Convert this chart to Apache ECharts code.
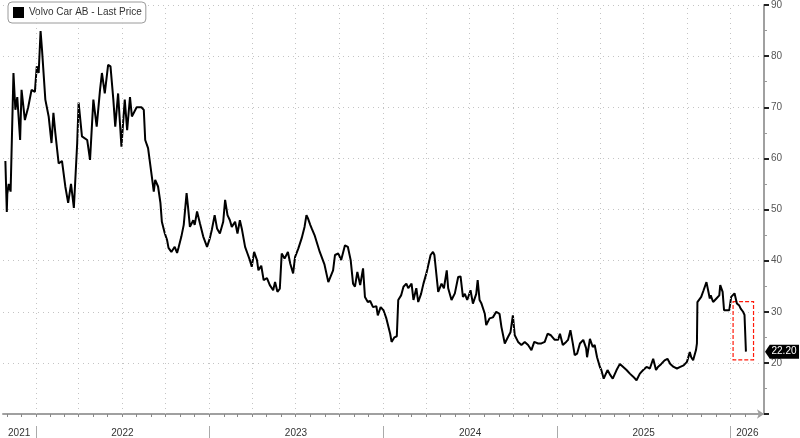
<!DOCTYPE html>
<html>
<head>
<meta charset="utf-8">
<script src="https://cdn.jsdelivr.net/npm/echarts@6/dist/echarts.min.js"></script>
<style>
html,body{margin:0;padding:0;background:#fff;}
#chart{width:800px;height:438px;}
</style>
</head>
<body>
<div id="chart"></div>
<script>
// ---- DATA ----
const seriesName = 'Volvo Car AB - Last Price';
const dates = [
'2021-10-29','2021-11-01','2021-11-02','2021-11-05','2021-11-09','2021-11-15','2021-11-19','2021-11-23','2021-11-29','2021-12-02',
'2021-12-09','2021-12-16','2021-12-23','2021-12-30','2022-01-03','2022-01-07','2022-01-11','2022-01-14','2022-01-21','2022-01-28',
'2022-02-03','2022-02-07','2022-02-11','2022-02-18','2022-02-25','2022-03-04','2022-03-10','2022-03-16','2022-03-22','2022-03-29',
'2022-04-01','2022-04-08','2022-04-19','2022-04-25','2022-05-02','2022-05-09','2022-05-16','2022-05-20','2022-05-26','2022-06-02',
'2022-06-07','2022-06-13','2022-06-17','2022-06-23','2022-06-30','2022-07-07','2022-07-12','2022-07-18','2022-07-22','2022-08-01',
'2022-08-11','2022-08-16','2022-08-19','2022-08-25','2022-08-29','2022-09-02','2022-09-06','2022-09-09','2022-09-15','2022-09-20',
'2022-09-23','2022-09-29','2022-10-04','2022-10-07','2022-10-13','2022-10-20','2022-10-25','2022-10-28','2022-11-03','2022-11-08',
'2022-11-14','2022-11-17','2022-11-21','2022-11-28','2022-12-01','2022-12-06','2022-12-12','2022-12-19','2022-12-27','2023-01-02',
'2023-01-06','2023-01-12','2023-01-17','2023-01-23','2023-01-30','2023-02-03','2023-02-08','2023-02-13','2023-02-17','2023-02-24',
'2023-03-01','2023-03-06','2023-03-10','2023-03-17','2023-03-22','2023-03-27','2023-03-31','2023-04-05','2023-04-11','2023-04-14',
'2023-04-20','2023-04-25','2023-05-02','2023-05-08','2023-05-15','2023-05-19','2023-05-24','2023-05-29','2023-06-02','2023-06-08',
'2023-06-15','2023-06-20','2023-06-26','2023-06-30','2023-07-07','2023-07-14','2023-07-20','2023-07-24','2023-07-27','2023-08-01',
'2023-08-04','2023-08-10','2023-08-14','2023-08-21','2023-08-31','2023-09-08','2023-09-18','2023-09-22','2023-09-29','2023-10-05',
'2023-10-09','2023-10-13','2023-10-19','2023-10-25','2023-10-30','2023-11-03','2023-11-08','2023-11-14','2023-11-20','2023-11-24',
'2023-11-30','2023-12-05','2023-12-11','2023-12-18','2023-12-21','2023-12-27','2024-01-02','2024-01-08','2024-01-11','2024-01-16',
'2024-01-19','2024-01-25','2024-01-30','2024-02-02','2024-02-08','2024-02-13','2024-02-19','2024-02-23','2024-03-01','2024-03-05',
'2024-03-11','2024-03-15','2024-03-21','2024-03-26','2024-04-02','2024-04-05','2024-04-10','2024-04-15','2024-04-18','2024-04-22',
'2024-04-26','2024-05-03','2024-05-08','2024-05-14','2024-05-17','2024-05-24','2024-05-31','2024-06-07','2024-06-12','2024-06-17',
'2024-06-21','2024-06-26','2024-07-03','2024-07-08','2024-07-15','2024-07-18','2024-07-22','2024-07-26','2024-08-02','2024-08-05',
'2024-08-12','2024-08-19','2024-08-26','2024-08-30','2024-09-02','2024-09-06','2024-09-13','2024-09-20','2024-09-25','2024-09-30',
'2024-10-04','2024-10-11','2024-10-18','2024-10-25','2024-11-01','2024-11-08','2024-11-14','2024-11-22','2024-11-29','2024-12-06',
'2024-12-12','2024-12-19','2024-12-27','2025-01-03','2025-01-07','2025-01-13','2025-01-20','2025-01-24','2025-01-29','2025-02-03',
'2025-02-07','2025-02-12','2025-02-18','2025-02-25','2025-03-03','2025-03-05','2025-03-11','2025-03-17','2025-03-21','2025-03-26',
'2025-04-01','2025-04-04','2025-04-09','2025-04-17','2025-04-23','2025-04-28','2025-05-06','2025-05-13','2025-05-20','2025-05-27',
'2025-06-03','2025-06-10','2025-06-17','2025-06-24','2025-07-01','2025-07-08','2025-07-15','2025-07-22','2025-07-28','2025-08-01',
'2025-08-08','2025-08-15','2025-08-21','2025-08-27','2025-09-03','2025-09-10','2025-09-17','2025-09-24','2025-10-01','2025-10-07',
'2025-10-10','2025-10-14','2025-10-20','2025-10-22','2025-10-23','2025-10-31','2025-11-05','2025-11-11','2025-11-13','2025-11-18',
'2025-11-20','2025-11-25','2025-12-02','2025-12-08','2025-12-10','2025-12-15','2025-12-18','2025-12-23','2025-12-29','2026-01-02',
'2026-01-06','2026-01-09','2026-01-14','2026-01-19','2026-01-22','2026-01-27','2026-01-30','2026-02-02'
];
const prices = [
59.5,49.5,53,55,53.5,76.7,69.5,72,63.6,73.4,
67.5,70,73.4,73,78,76.7,84.9,81.3,71.5,68.2,
63,68.9,65,59,59.5,54.5,51.3,55,50.3,63,
70.9,64.3,63.6,59.7,71.5,66.2,73.4,76.7,72.7,78.3,
78,71.5,66.2,72.7,62.3,71.5,65.5,72,68.2,70,
70,69.5,63.6,62,61.7,56.4,53.5,55.8,54.5,51.3,
47.6,45.4,44,42.5,41.7,42.7,41.5,42.5,44.7,47,
53.2,50.5,46.6,47.9,47,49.6,47.3,44.7,42.7,44.4,
46,48.9,46.3,45.3,47.6,51.9,48.9,47.9,46.6,47.6,
45.3,47.9,46.3,42.7,41.4,40.1,38.8,41.7,40.1,38.1,
39,36.2,36.6,35.2,34.2,35.8,33.9,34.5,41.4,40.4,
41.7,39.4,37.5,40.7,42.4,44.4,46.6,48.9,48.3,47,
46.3,45,44.7,41.7,39.2,35.8,38.1,41.1,41.4,40.1,
39.8,43,42.7,40.1,35.5,34.9,37.8,35.2,38.5,32.9,
31.9,32.1,30.9,31.1,29.3,30.9,30.3,28.7,28.4,25.7,
24.1,25,25.2,32.3,33.2,34.9,35.5,34.6,35.5,32.3,
34.6,31.9,33.5,35.5,37.8,37.5,41.1,41.7,41.1,41.4,
33.9,35.5,34.6,38.1,34.6,32.3,33.6,36.8,36.9,32.9,
33.5,32.3,34.2,31.6,33.5,36.2,32.3,31.6,29.6,27.4,
28.7,28.9,30,30.2,29.6,27,23.8,25.1,26,29.3,
25.4,24.1,23.5,24.1,23.5,22.5,24.1,23.8,23.8,24.1,
25.7,25.4,24.5,24.5,25.7,23.5,24.1,24.5,26.4,23.8,
21.5,21.8,23.8,24.5,22.9,21.1,24.7,23.1,23.5,21.1,
19.2,18.6,16.9,18.6,17.6,16.9,18.6,19.8,19.2,18.6,
17.9,17.3,16.6,17.9,18.6,19.2,18.9,20.8,18.6,19.2,
19.8,20.5,20.8,19.8,19.2,18.9,19.2,19.5,20.2,22.1,
21.1,20.5,22.5,23.8,31.9,32.9,34.2,35.8,35.5,32.6,
33.2,31.9,32.6,33.2,35.2,33.9,30.3,30.3,30.3,32.9,
33.2,33.6,31.6,31.2,30.6,30,29.4,22.2
];
const yearLabelDates = ['2021-11-27','2022-07-02','2023-07-02','2024-07-02','2025-07-02','2026-02-05'];
const yearStarts = ['2022-01-01','2023-01-01','2024-01-01','2025-01-01','2026-01-01'];
const quarterStarts = [
'2022-01-01','2022-04-01','2022-07-01','2022-10-01','2023-01-01','2023-04-01','2023-07-01','2023-10-01',
'2024-01-01','2024-04-01','2024-07-01','2024-10-01','2025-01-01','2025-04-01','2025-07-01','2025-10-01','2026-01-01'
];
const axisStart = '2021-10-24';
const axisEnd = '2026-03-12';
const yMin = 10, yMax = 90, yStep = 10;
const highlightBox = {from: '2026-01-06', to: '2026-02-18', top: 32, bottom: 20.6};

// ---- BUILD ----
const ts = s => Date.parse(s + 'T00:00:00Z');
const seriesData = dates.map((d, i) => [ts(d), prices[i]]);
const monthStarts = [];
for (let y = 2021; y <= 2026; y++) {
  for (let m = 0; m < 12; m++) {
    const t = Date.UTC(y, m, 1);
    if (t >= ts(axisStart) && t <= ts(axisEnd)) monthStarts.push(t);
  }
}
const lastVal = prices[prices.length - 1];
const font = '"Liberation Sans", Arial, sans-serif';

const chart = echarts.init(document.getElementById('chart'), null, {renderer: 'canvas'});
chart.setOption({
  animation: false,
  backgroundColor: '#ffffff',
  textStyle: {fontFamily: font},
  grid: {left: 3, right: 36, top: 4.5, bottom: 24},
  legend: {
    data: [seriesName],
    left: 8, top: 2,
    icon: 'rect', itemWidth: 11, itemHeight: 11, itemGap: 4,
    padding: [5, 4, 5, 5],
    backgroundColor: '#ffffff',
    borderColor: '#9a9a9a', borderWidth: 1, borderRadius: 4,
    textStyle: {fontSize: 10, color: '#333', fontFamily: font}
  },
  xAxis: [
    {
      type: 'value', min: ts(axisStart), max: ts(axisEnd),
      axisLine: {show: true, lineStyle: {color: '#a0a0a0', width: 2}, symbol: ['none', 'arrow'], symbolSize: [7, 7]},
      axisTick: {show: true, customValues: monthStarts, length: 3, lineStyle: {color: '#888', width: 1}},
      axisLabel: {
        show: true, customValues: yearLabelDates.map(ts), margin: 14,
        fontSize: 10, color: '#333', fontFamily: font,
        formatter: v => String(new Date(v).getUTCFullYear())
      },
      splitLine: {show: false}
    },
    {
      type: 'value', min: ts(axisStart), max: ts(axisEnd), position: 'bottom', offset: 12,
      axisLine: {show: false},
      axisTick: {show: true, customValues: yearStarts.map(ts), length: 12, lineStyle: {color: '#aaa', width: 1}},
      axisLabel: {show: false},
      splitLine: {show: false}
    }
  ],
  yAxis: {
    type: 'value', position: 'right', min: yMin, max: yMax, interval: yStep,
    axisLine: {show: true, lineStyle: {color: '#a0a0a0', width: 2}},
    axisTick: {show: true, length: 5, lineStyle: {color: '#222', width: 2}},
    minorTick: {show: true, splitNumber: 2, length: 3, lineStyle: {color: '#999'}},
    axisLabel: {show: true, showMinLabel: false, margin: 7, fontSize: 10, color: '#555', fontFamily: font},
    splitLine: {show: true, lineStyle: {color: '#c4c4c4', type: [1, 4], width: 1}}
  },
  series: [{
    name: seriesName,
    type: 'line',
    xAxisIndex: 0,
    data: seriesData,
    showSymbol: false,
    symbol: 'none',
    color: '#000',
    lineStyle: {color: '#000', width: 2},
    markLine: {
      silent: true, symbol: 'none',
      label: {show: false},
      lineStyle: {color: '#c4c4c4', type: [1, 4], width: 1},
      data: quarterStarts.map(d => ({xAxis: ts(d)}))
    },
    markArea: {
      silent: true,
      itemStyle: {color: 'rgba(0,0,0,0)', borderColor: '#ff1a0a', borderWidth: 1.2, borderType: [4, 2]},
      data: [[{xAxis: ts(highlightBox.from), yAxis: highlightBox.top}, {xAxis: ts(highlightBox.to), yAxis: highlightBox.bottom}]]
    },
    markPoint: {
      silent: true,
      symbol: 'path://M0,7 L5,0 L36,0 L36,14 L5,14 Z',
      symbolSize: [34, 14],
      symbolKeepAspect: false,
      symbolOffset: [18, 0],
      itemStyle: {color: '#000'},
      label: {show: true, position: 'inside', offset: [2, 0], color: '#fff', fontSize: 10, fontFamily: font, formatter: lastVal.toFixed(2)},
      data: [{coord: [ts(axisEnd), lastVal]}]
    }
  }]
});
</script>
</body>
</html>
